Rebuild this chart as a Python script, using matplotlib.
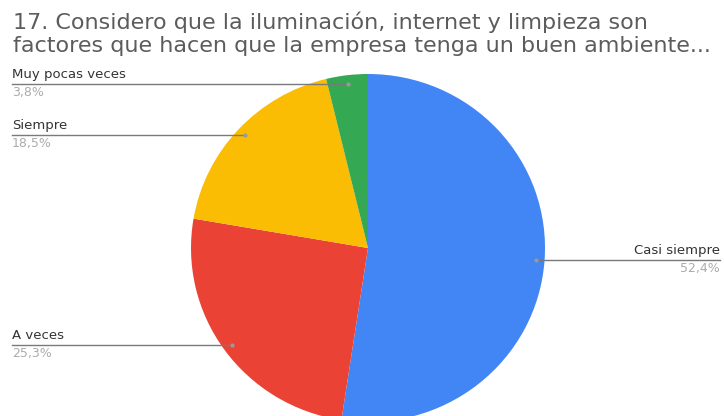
import numpy as np
import matplotlib.pyplot as plt

plt.rcParams['font.family'] = ['DejaVu Sans']

# Answers to question 17, clockwise from 12 o'clock
labels = ['Casi siempre', 'A veces', 'Siempre', 'Muy pocas veces']
values = [52.4, 25.3, 18.5, 3.8]
pct_text = ['52,4%', '25,3%', '18,5%', '3,8%']
colors = ['#4285F4', '#EA4335', '#FBBC04', '#34A853']

title_lines = ['17. Considero que la iluminación, internet y limpieza son',
               'factores que hacen que la empresa tenga un buen ambiente...']

W, H = 724, 416
fig = plt.figure(figsize=(W / 100, H / 100), dpi=100)

# pie box in pixels
cx, cy, rx, ry = 368, 248, 177, 174
ax = fig.add_axes([(cx - rx) / W, (H - cy - ry) / H, 2 * rx / W, 2 * ry / H])
wedges, _ = ax.pie(values, colors=colors, startangle=90, counterclock=False,
                   wedgeprops=dict(linewidth=0))
ax.set_aspect('auto')
ax.set_xlim(-1, 1)
ax.set_ylim(-1, 1)
ax.axis('off')

# overlay in pixel coordinates for title, leader lines and labels
ov = fig.add_axes([0, 0, 1, 1], facecolor='none')
ov.set_xlim(0, W)
ov.set_ylim(H, 0)
ov.axis('off')

for i, line in enumerate(title_lines):
    ov.text(13, 29 + 23 * i, line, ha='left', va='baseline', fontsize=16,
            color='#5c5c5c')

for w, lab, pct in zip(wedges, labels, pct_text):
    mid = np.deg2rad((w.theta1 + w.theta2) / 2)
    px = cx + 0.95 * rx * np.cos(mid)
    py = cy - 0.95 * ry * np.sin(mid)
    if np.cos(mid) > 0:
        x_end, ha = 720, 'right'
    else:
        x_end, ha = 12, 'left'
    ov.plot([px, x_end], [py, py], color='#7a7a7a', lw=1)
    ov.plot(px, py, 'o', ms=2, color='#9a9a9a')
    ov.text(x_end, py - 3, lab, ha=ha, va='bottom', fontsize=9.5, color='#333333')
    ov.text(x_end, py + 2, pct, ha=ha, va='top', fontsize=9, color='#ababab')

fig.savefig('out.png', dpi=100)
